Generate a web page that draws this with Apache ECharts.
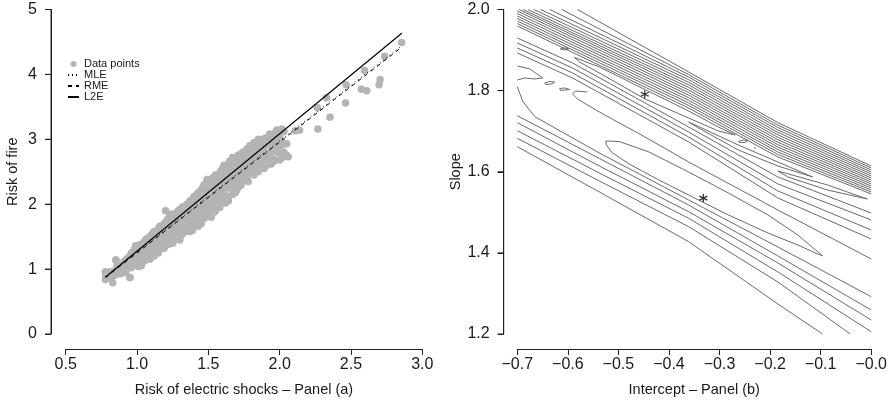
<!DOCTYPE html>
<html>
<head>
<meta charset="utf-8">
<title>Risk of fire / contour panel</title>
<script src="https://cdn.jsdelivr.net/npm/echarts@6/dist/echarts.min.js"></script>
<style>
  html, body { margin: 0; padding: 0; background: #fff; }
  #chart { width: 890px; height: 403px; }
</style>
</head>
<body>
<div id="chart"></div>
<script>
// ---- panel (a): scatter + fitted lines ----
const dataPoints = [
  [0.78,0.93],[0.78,0.86],[0.79,0.90],[0.80,0.95],[0.81,0.91],[0.82,0.88],[0.83,0.79],[0.84,0.97],[0.85,1.14],[0.85,0.92],[0.86,1.00],[0.87,0.95],
  [0.88,1.03],[0.89,0.98],[0.90,1.08],[0.90,0.94],[0.91,1.12],[0.92,1.05],[0.92,0.96],[0.93,1.16],[0.94,1.02],[0.95,0.87],[0.95,1.10],[0.95,1.20],
  [0.96,1.25],[0.97,1.15],[0.97,1.05],[0.98,1.30],[0.99,1.20],[1.00,1.10],[1.00,1.33],[1.01,1.25],[1.02,1.15],[1.02,1.38],[1.03,1.05],[1.04,1.30],[1.04,1.20],[1.05,1.42],[1.05,1.12],
  [1.06,1.35],[1.07,1.25],[1.07,1.47],[1.08,1.18],[1.08,1.40],[1.09,1.30],[1.10,1.52],[1.10,1.22],[1.11,1.42],[1.12,1.35],[1.12,1.58],[1.13,1.28],[1.13,1.50],[1.14,1.44],[1.15,1.62],[1.15,1.35],[1.15,1.25],
  [1.16,1.55],[1.17,1.45],[1.17,1.66],[1.18,1.38],[1.18,1.60],[1.19,1.50],[1.20,1.72],[1.20,1.42],[1.20,1.90],[1.21,1.62],[1.22,1.55],[1.22,1.78],[1.23,1.48],[1.23,1.68],[1.24,1.60],[1.24,1.82],[1.25,1.40],[1.25,1.72],[1.25,1.52],
  [1.26,1.65],[1.27,1.86],[1.27,1.56],[1.28,1.75],[1.28,1.48],[1.29,1.68],[1.30,1.92],[1.30,1.60],[1.31,1.80],[1.31,1.52],[1.32,1.72],[1.32,1.96],[1.33,1.65],[1.33,1.85],[1.34,1.58],[1.34,1.78],[1.35,2.00],[1.35,1.70],[1.35,1.88],
  [1.36,1.62],[1.37,1.82],[1.37,2.05],[1.38,1.75],[1.38,1.95],[1.39,1.68],[1.40,1.88],[1.40,2.12],[1.41,1.78],[1.41,2.00],[1.42,1.72],[1.42,1.92],[1.43,2.18],[1.43,1.85],[1.44,2.05],[1.44,1.78],[1.45,1.96],[1.45,2.22],[1.45,1.70],
  [1.46,1.88],[1.47,2.10],[1.47,2.30],[1.48,1.82],[1.48,2.00],[1.49,2.20],[1.50,1.92],[1.50,2.35],[1.51,2.08],[1.51,1.85],[1.52,2.25],[1.52,2.00],[1.53,2.40],[1.53,1.95],[1.54,2.15],[1.54,2.30],[1.55,2.05],[1.55,1.90],[1.55,2.45],
  [1.56,2.22],[1.57,2.35],[1.57,2.00],[1.58,2.48],[1.58,2.12],[1.59,2.28],[1.60,2.05],[1.60,2.55],[1.61,2.40],[1.61,2.18],[1.62,2.30],[1.62,2.02],[1.63,2.60],[1.63,2.45],[1.64,2.12],[1.64,2.35],[1.65,2.52],[1.65,2.25],[1.65,2.66],
  [1.66,2.40],[1.67,2.15],[1.67,2.58],[1.68,2.30],[1.68,2.70],[1.69,2.48],[1.70,2.22],[1.70,2.62],[1.71,2.38],[1.71,2.76],[1.72,2.52],[1.72,2.28],[1.73,2.68],[1.73,2.45],[1.74,2.80],[1.74,2.35],[1.75,2.60],[1.75,2.50],
  [1.76,2.72],[1.77,2.42],[1.77,2.85],[1.78,2.60],[1.78,2.35],[1.79,2.78],[1.80,2.50],[1.80,2.90],[1.81,2.66],[1.82,2.45],[1.82,2.95],[1.83,2.75],[1.84,2.58],[1.84,2.88],[1.85,2.68],[1.85,2.50],[1.85,3.00],
  [1.86,2.80],[1.87,2.62],[1.87,2.96],[1.88,2.70],[1.89,2.88],[1.89,2.55],[1.90,3.02],[1.90,2.65],[1.91,2.78],[1.92,2.92],[1.93,2.68],[1.93,3.08],[1.94,2.62],[1.95,2.85],[1.95,3.00],
  [1.96,2.70],[1.97,3.10],[1.98,2.92],[1.98,3.14],[1.99,2.80],[2.00,3.05],[2.00,2.68],[2.02,2.95],[2.03,3.12],[2.03,2.80],[2.05,2.75],[2.06,2.73],[2.04,2.93],
  [0.80,0.88],[0.82,0.96],[0.84,0.90],[0.86,1.06],[0.88,0.93],[0.90,1.01],[0.91,0.98],[0.93,1.09],[0.94,1.14],[0.96,1.02],[0.96,1.18],[0.98,1.10],
  [0.99,1.36],[1.00,1.22],[1.01,1.04],[1.03,1.28],[1.03,1.35],[1.05,1.22],[1.06,1.16],[1.06,1.45],[1.08,1.32],[1.09,1.50],[1.09,1.15],[1.11,1.30],
  [1.11,1.55],[1.12,1.20],[1.14,1.32],[1.14,1.55],[1.16,1.30],[1.16,1.66],[1.17,1.36],[1.19,1.70],[1.19,1.32],[1.21,1.45],[1.21,1.75],[1.22,1.38],
  [1.23,1.85],[1.24,1.45],[1.26,1.80],[1.26,1.45],[1.27,1.70],[1.28,1.62],[1.29,1.90],[1.29,1.55],[1.30,1.45],[1.31,1.64],[1.32,1.55],[1.33,1.94],
  [1.34,1.68],[1.36,1.95],[1.36,1.75],[1.37,1.58],[1.38,1.86],[1.39,2.08],[1.39,1.60],[1.40,1.72],[1.41,1.90],[1.42,2.15],[1.43,1.66],[1.44,1.95],
  [1.44,2.12],[1.46,2.00],[1.46,2.25],[1.47,1.78],[1.48,2.15],[1.49,1.88],[1.49,2.38],[1.50,2.05],[1.51,2.30],[1.52,1.80],[1.53,2.10],[1.54,1.88],
  [1.54,2.42],[1.56,2.05],[1.56,2.40],[1.57,2.15],[1.58,1.95],[1.58,2.30],[1.59,2.52],[1.60,2.20],[1.61,2.60],[1.62,2.12],[1.62,2.48],[1.63,2.30],
  [1.64,2.62],[1.64,2.05],[1.66,2.55],[1.66,2.28],[1.67,2.72],[1.68,2.45],[1.69,2.18],[1.69,2.62],[1.70,2.40],[1.71,2.52],[1.72,2.72],[1.73,2.30],
  [1.74,2.62],[1.75,2.40],[1.76,2.55],[1.76,2.80],[1.77,2.65],[1.78,2.48],[1.79,2.90],[1.79,2.62],[1.80,2.75],[1.81,2.85],[1.81,2.55],[1.83,2.62],
  [1.83,2.95],[1.84,2.70],[1.86,2.60],[1.86,2.92],[1.88,2.82],[1.88,3.00],[1.89,2.72],[1.91,2.95],[1.91,2.60],[1.92,2.78],[1.94,2.95],[1.94,2.80],
  [1.96,3.05],[1.97,2.85],[1.99,3.00],[2.01,2.90],[1.96,2.66],[2.02,2.72],
  [2.855,4.49],[2.735,4.28],[2.704,3.92],[2.697,3.84],[2.595,4.06],[2.572,3.77],[2.611,3.75],[2.466,3.84],[2.462,3.56],
  [2.353,3.34],[2.328,3.64],[2.263,3.49],[2.268,3.16],[2.14,3.14],[2.11,3.13],[2.05,2.93],[1.98,3.14],[2.015,3.16],
  [0.778,0.96],[0.778,0.84],[0.853,1.14],[0.951,0.87],[0.916,0.96]
]
const fitX = [0.778, 2.856]
const mleY = [0.885, 4.44]
const rmeY = [0.87, 4.42]
const l2eY = [0.875, 4.635]

const ticksAx = [0.5, 1.0, 1.5, 2.0, 2.5, 3.0]
const ticksAy = [0, 1, 2, 3, 4, 5]

// ---- panel (b): contour lines (intercept, slope) ----
const ticksBx = [-0.7, -0.6, -0.5, -0.4, -0.3, -0.2, -0.1, 0.0]
const ticksBy = [1.2, 1.4, 1.6, 1.8, 2.0]

// dense upper band, top/left edge -> right edge
const bandLines = [
  [[-0.5809,2.0],[-0.3611,1.8460],[-0.1845,1.7210],[0,1.6142]],
  [[-0.6123,2.0],[-0.3611,1.8395],[-0.1845,1.7149],[0,1.6093]],
  [[-0.6358,2.0],[-0.3611,1.8334],[-0.1845,1.7089],[0,1.6043]],
  [[-0.6535,2.0],[-0.3611,1.8270],[-0.1845,1.7028],[0,1.5994]],
  [[-0.6672,2.0],[-0.3611,1.8206],[-0.1845,1.6968],[0,1.5945]],
  [[-0.6790,2.0],[-0.3611,1.8142],[-0.1845,1.6908],[0,1.5895]],
  [[-0.6888,2.0],[-0.3611,1.8080],[-0.1845,1.6847],[0,1.5846]],
  [[-0.6967,2.0],[-0.3611,1.8016],[-0.1845,1.6787],[0,1.5797]],
  [[-0.7,1.9964],[-0.3611,1.7952],[-0.1845,1.6726],[0,1.5747]],
  [[-0.7,1.9902],[-0.3611,1.7890],[-0.1845,1.6666],[0,1.5698]],
  [[-0.7,1.9840],[-0.3611,1.7826],[-0.1845,1.6606],[0,1.5649]],
  [[-0.7,1.9779],[-0.3611,1.7762],[-0.1845,1.6545],[0,1.5600]],
  [[-0.7,1.9717],[-0.3611,1.7698],[-0.1845,1.6485],[0,1.5550]],
  [[-0.7,1.9655],[-0.3611,1.7636],[-0.1845,1.6424],[0,1.5501]],
  [[-0.7,1.9594],[-0.3611,1.7572],[-0.1845,1.6364],[0,1.5452]]
]

// valley lines between the band and the lower loop
const valleyLines = [
  [[-0.7,1.9298],[-0.5907,1.8682],[-0.3611,1.7104],[-0.1845,1.5871],[0,1.4983]],
  [[-0.7,1.9175],[-0.5907,1.8558],[-0.3611,1.6980],[-0.1845,1.5698],[0,1.4811]],
  [[-0.7,1.9051],[-0.5907,1.8435],[-0.3611,1.6857],[-0.1845,1.5526],[0,1.4564]],
  [[-0.7,1.8928],[-0.5907,1.8312],[-0.3611,1.6734],[-0.1845,1.5353],[0,1.4342]],
  [[-0.5613,1.7967],[-0.5848,1.7991],[-0.5907,1.7917],[-0.5809,1.7794],[-0.5377,1.7473],[-0.4475,1.6857],[-0.3611,1.6241],[-0.1845,1.5057],[0,1.3849]],
  [[-0.7,1.8608],[-0.6751,1.8534],[-0.6613,1.8411],[-0.6496,1.8312],[-0.6653,1.8287],[-0.6849,1.8312],[-0.7,1.8262]]
]

// closed loops and small islands
const loops = [
  [[-0.5868,1.8817],[-0.5377,1.8583],[-0.4475,1.8028],[-0.3611,1.7498],[-0.3023,1.7104],[-0.2689,1.6906],[-0.3023,1.7005],[-0.3611,1.7325],[-0.4475,1.7794],[-0.5377,1.8435],[-0.5770,1.8706],[-0.5868,1.8817]],
  [[-0.3611,1.7227],[-0.2630,1.6660],[-0.1845,1.6241],[-0.1158,1.5871],[-0.1845,1.6142],[-0.2630,1.6537],[-0.3415,1.7079],[-0.3611,1.7227]],
  [[-0.1845,1.6019],[-0.0864,1.5674],[-0.0079,1.5328],[-0.0079,1.5279],[-0.0864,1.5550],[-0.1649,1.5871],[-0.1845,1.6019]],
  [[-0.5246,1.6758],[-0.4985,1.6746],[-0.4396,1.6487],[-0.3611,1.5994],[-0.2826,1.5476],[-0.2041,1.4934],[-0.1453,1.4441],[-0.1100,1.4071],[-0.0962,1.3930],
   [-0.1060,1.3972],[-0.1453,1.4194],[-0.2041,1.4490],[-0.2826,1.4934],[-0.3611,1.5427],[-0.4200,1.5797],[-0.4789,1.6191],[-0.5142,1.6487],[-0.5246,1.6684],[-0.5246,1.6758]],
  [[-0.6142,1.9039],[-0.6064,1.9056],[-0.5985,1.9032],[-0.6064,1.9002],[-0.6142,1.9019],[-0.6142,1.9039]],
  [[-0.6456,1.8189],[-0.6358,1.8225],[-0.6260,1.8213],[-0.6319,1.8164],[-0.6437,1.8152],[-0.6456,1.8189]],
  [[-0.6162,1.8053],[-0.6064,1.8065],[-0.5966,1.8028],[-0.6005,1.7991],[-0.6142,1.8003],[-0.6162,1.8053]],
  [[-0.2630,1.6746],[-0.2532,1.6783],[-0.2434,1.6771],[-0.2493,1.6726],[-0.2611,1.6721],[-0.2630,1.6746]],
  [[-0.2316,1.6598],[-0.2277,1.6598],[-0.2277,1.6573],[-0.2316,1.6573],[-0.2316,1.6598]]
]

// straight lines in the lower left
const lowerLines = [
  [[-0.7,1.8097],[-0.6888,1.7727],[-0.6653,1.7357],[-0.5377,1.6462],[-0.3611,1.5304],[-0.1845,1.4145],[0,1.2920]],
  [[-0.7,1.7382],[-0.5377,1.6327],[-0.3611,1.5180],[-0.1845,1.3923],[0,1.2592]],
  [[-0.7,1.7210],[-0.5377,1.6142],[-0.3611,1.5015],[-0.1845,1.3751],[0,1.2345]],
  [[-0.7,1.7012],[-0.5377,1.5969],[-0.3611,1.4853],[-0.1845,1.3529],[0,1.2057]],
  [[-0.7,1.6825],[-0.5377,1.5772],[-0.3611,1.4646],[-0.1845,1.3282],[-0.0413,1.2]],
  [[-0.7,1.6618],[-0.5377,1.5501],[-0.3611,1.4276],[-0.1845,1.2740],[-0.0962,1.2]]
]

const estimates = [[-0.448, 1.791], [-0.332, 1.535]]

const font = 'Liberation Sans, Arial, Helvetica, sans-serif'
const axisColor = '#222'

function baseAxis (ticks) {
  return {
    type: 'value',
    min: ticks[0],
    max: ticks[ticks.length - 1],
    interval: ticks[1] - ticks[0],
    splitLine: { show: false },
    axisLine: { show: true, lineStyle: { color: axisColor, width: 1 } },
    axisTick: { show: true, length: 6, lineStyle: { color: axisColor, width: 1 } },
    axisLabel: { color: '#1a1a1a', fontSize: 16, fontFamily: font },
    nameLocation: 'middle',
    nameTextStyle: { color: '#1a1a1a', fontSize: 14.5, fontFamily: font }
  }
}

const fmt1 = v => v.toFixed(1).replace('-', '\u2212')

let contourSeries = []
;[bandLines, valleyLines, loops, lowerLines].forEach(group => {
  group.forEach(pts => {
    contourSeries.push({
      type: 'line',
      xAxisIndex: 1,
      yAxisIndex: 1,
      data: pts,
      symbol: 'none',
      silent: true,
      lineStyle: { color: '#6a6a6a', width: 1 },
      z: 2
    })
  })
})

// visible x axes sit 15px below their plotting grids (R style)
let xA = baseAxis(ticksAx)
xA.gridIndex = 0
xA.offset = 15
xA.nameGap = 33
xA.name = 'Risk of electric shocks \u2013 Panel (a)'
xA.axisLine.onZero = false
xA.axisLabel.margin = 8
xA.axisLabel.formatter = fmt1

let xB = baseAxis(ticksBx)
xB.gridIndex = 1
xB.offset = 15
xB.nameGap = 33
xB.name = 'Intercept \u2013 Panel (b)'
xB.axisLine.onZero = false
xB.axisLabel.margin = 8
xB.axisLabel.formatter = fmt1

// data y axes of the plotting grids: they only carry the axis titles
function titleAxis (ticks, grid, name, gap) {
  let a = baseAxis(ticks)
  a.gridIndex = grid
  a.name = name
  a.nameGap = gap
  a.axisLine = { show: false }
  a.axisTick = { show: false }
  a.axisLabel = { show: false }
  return a
}
let yAdata = titleAxis(ticksAy, 0, 'Risk of fire', 45.7)
let yBdata = titleAxis(ticksBy, 1, 'Slope', 53.6)

// visible y axes live in their own grids, left of the plot area
let yA = baseAxis(ticksAy)
yA.gridIndex = 2
yA.axisLabel.margin = 14

let yB = baseAxis(ticksBy)
yB.gridIndex = 3
yB.axisLabel.margin = 14
yB.axisLabel.formatter = fmt1

const helperRange = [1, 2]
let helperX = i => ({ type: 'value', gridIndex: i, min: helperRange[0], max: helperRange[1], show: false })

// axis line + tick marks for the helper grids, drawn through their scales
function axisMarks (ticks, grid) {
  return [
    {
      type: 'line',
      xAxisIndex: grid,
      yAxisIndex: grid,
      data: [[helperRange[0], ticks[0]], [helperRange[0], ticks[ticks.length - 1]]],
      symbol: 'none',
      silent: true,
      clip: false,
      lineStyle: { color: axisColor, width: 1 }
    },
    {
      type: 'scatter',
      xAxisIndex: grid,
      yAxisIndex: grid,
      data: ticks.map(v => [helperRange[0], v]),
      symbol: 'rect',
      symbolSize: [6, 1],
      symbolOffset: [-3, 0],
      silent: true,
      clip: false,
      itemStyle: { color: axisColor, opacity: 1 }
    }
  ]
}

let myChart = echarts.init(document.getElementById('chart'))
let option = {
  animation: false,
  backgroundColor: '#fff',
  grid: [
    { left: 65.7, right: 467.7, top: 9.5, bottom: 69 },
    { left: 517.3, right: 16, top: 9.5, bottom: 69 },
    { left: 51, right: 467.7, top: 9.5, bottom: 69 },
    { left: 503.7, right: 16, top: 9.5, bottom: 69 }
  ],
  legend: {
    data: [
      { name: 'Data points' },
      { name: 'MLE', itemStyle: { opacity: 0 } },
      { name: 'RME', itemStyle: { opacity: 0 } },
      { name: 'L2E', itemStyle: { opacity: 0 } }
    ],
    orient: 'vertical',
    left: 62,
    top: 53.5,
    itemGap: 0,
    itemWidth: 11,
    itemHeight: 6,
    textStyle: { fontSize: 11, lineHeight: 11, color: '#1a1a1a', fontFamily: font }
  },
  xAxis: [xA, xB, helperX(2), helperX(3)],
  yAxis: [yAdata, yBdata, yA, yB],
  series: [
    {
      name: 'Data points',
      type: 'scatter',
      data: dataPoints,
      symbolSize: 7.5,
      itemStyle: { color: '#b4b4b4', opacity: 1 },
      z: 1
    },
    {
      name: 'MLE',
      type: 'line',
      data: fitX.map((x, i) => [x, mleY[i]]),
      symbol: 'none',
      itemStyle: { color: '#000' },
      lineStyle: { color: '#000', width: 1, type: [1, 3] },
      z: 3
    },
    {
      name: 'RME',
      type: 'line',
      data: fitX.map((x, i) => [x, rmeY[i]]),
      symbol: 'none',
      itemStyle: { color: '#000' },
      lineStyle: { color: '#000', width: 1, type: [4, 4] },
      z: 3
    },
    {
      name: 'L2E',
      type: 'line',
      data: fitX.map((x, i) => [x, l2eY[i]]),
      symbol: 'none',
      itemStyle: { color: '#000' },
      lineStyle: { color: '#000', width: 1.2 },
      z: 3
    },
    ...contourSeries,
    {
      type: 'scatter',
      xAxisIndex: 1,
      yAxisIndex: 1,
      data: estimates,
      symbol: 'path://M5,0L5,10M0.67,2.5L9.33,7.5M0.67,7.5L9.33,2.5',
      symbolSize: 8,
      itemStyle: { color: 'none', borderColor: '#000', borderWidth: 1.3 },
      silent: true,
      z: 4
    },
    ...axisMarks(ticksAy, 2),
    ...axisMarks(ticksBy, 3)
  ]
}
myChart.setOption(option)
</script>
</body>
</html>
